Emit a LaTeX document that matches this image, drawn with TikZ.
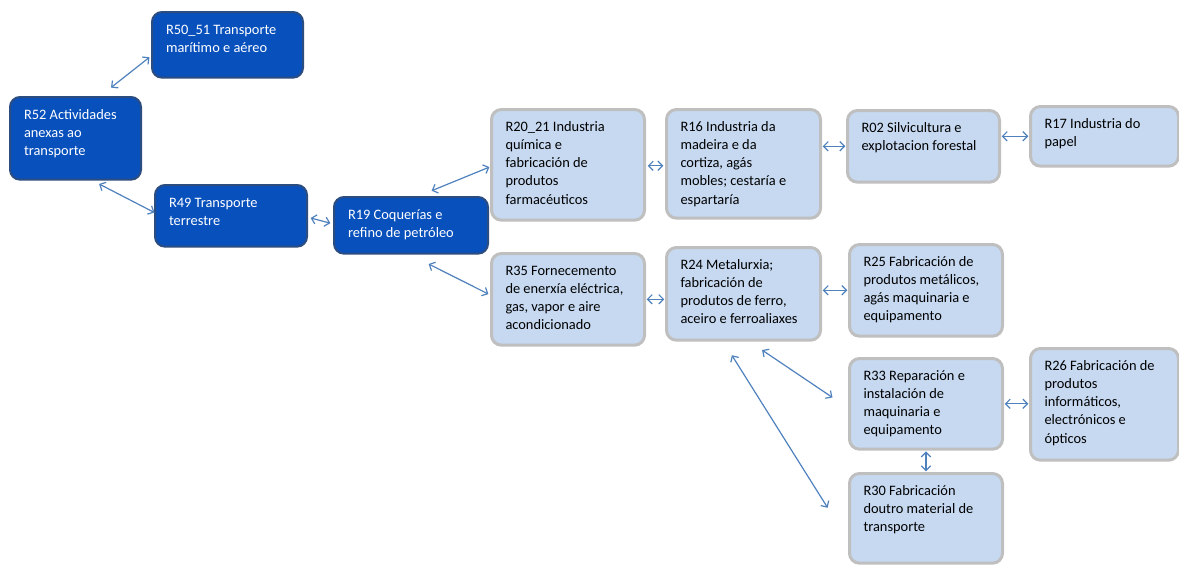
\documentclass[tikz,border=0pt]{standalone}
\usepackage{fontspec}
\setmainfont{Carlito}
\usepackage{tikz}
\usetikzlibrary{arrows.meta,calc}
\definecolor{deep}{HTML}{0850BC}
\definecolor{deepedge}{HTML}{2C4D80}
\definecolor{pale}{HTML}{C6D9F1}
\definecolor{paleedge}{HTML}{BFBFBF}
\definecolor{wire}{HTML}{4F81BD}
\newdimen\unitpx \unitpx=0.75pt
% box text: width and height in px
\newcommand{\sector}[3]{\parbox[b][\dimexpr#2\unitpx-15pt\relax][t]{\dimexpr#1\unitpx-21pt\relax}{\raggedright\strut#3}}

\begin{document}
\begin{tikzpicture}[x=0.75pt,y=-0.75pt,
  every node/.style={font=\fontsize{10.8}{13.6}\selectfont},
  sect/.style={rounded corners=7.5pt,anchor=north west,inner xsep=10.5pt,inner ysep=7pt},
  dark/.style={sect,fill=deep,draw=deepedge,line width=1.5pt,text=white},
  light/.style={sect,fill=pale,draw=paleedge,line width=2.25pt,text=black},
  link/.style={>={Straight Barb[length=3.5pt,width=7pt]},<->,draw=wire,line width=0.9pt,shorten <=0.5pt,shorten >=0.5pt}]
  \useasboundingbox (0,0) rectangle (1179,565);
  % transport
  \node[dark] (r5051) at (151,11) {\sector{151}{67}{R50\_51 Transporte\\marítimo e aéreo}};
  \node[dark] (r52) at (9,96) {\sector{131}{84}{R52 Actividades\\anexas ao\\transporte}};
  \node[dark] (r49) at (154,184) {\sector{152}{63}{R49 Transporte\\terrestre}};
  \node[dark] (r19) at (333,196) {\sector{154}{58}{R19 Coquerías e\\refino de petróleo}};
  % industry
  \node[light] (r2021) at (490,108) {\sector{153}{112}{R20\_21 Industria\\química e\\fabricación de\\produtos\\farmacéuticos}};
  \node[light] (r16) at (665,108) {\sector{154}{110}{R16 Industria da\\madeira e da\\cortiza, agás\\mobles; cestaría e\\espartaría}};
  \node[light] (r02) at (846,109) {\sector{152}{73}{R02 Silvicultura e\\explotacion forestal}};
  \node[light] (r17) at (1029,105) {\sector{148}{61}{R17 Industria do\\papel}};
  \node[light] (r35) at (490,252) {\sector{153}{93}{R35 Fornecemento\\de enerxía eléctrica,\\gas, vapor e aire\\acondicionado}};
  \node[light] (r24) at (665,246) {\sector{154}{94}{R24 Metalurxia;\\fabricación de\\produtos de ferro,\\aceiro e ferroaliaxes}};
  \node[light] (r25) at (848,243) {\sector{153}{93}{R25 Fabricación de\\produtos metálicos,\\agás maquinaria e\\equipamento}};
  \node[light] (r33) at (848,357) {\sector{153}{92}{R33 Reparación e\\instalación de\\maquinaria e\\equipamento}};
  \node[light] (r26) at (1029,347) {\sector{148}{113}{R26 Fabricación de\\produtos\\informáticos,\\electrónicos e\\ópticos}};
  \node[light] (r30) at (848,472) {\sector{153}{91}{R30 Fabricación\\doutro material de\\transporte}};
  % links
  \draw[link] ([shift={(-1,12)}]r5051.west) -- ([shift={(35,-8)}]r52.north);
  \draw[link] ([shift={(23,3)}]r52.south) -- ([shift={(1,-3)}]r49.west);
  \draw[link] ([shift={(2,2)}]r49.east) -- ([shift={(-2,-2)}]r19.west);
  \draw[link] ([shift={(20,-5)}]r19.north) -- ([shift={(0,2)}]r2021.west);
  \draw[link] ([shift={(17,9)}]r19.south) -- ([shift={(-1,-5)}]r35.west);
  \draw[link] ([shift={(1,1)}]r2021.east) -- ([shift={(-1,2)}]r16.west);
  \draw[link] (r16.east |- r02.west) -- (r02.west);
  \draw[link] (r02.east |- r17.west) -- (r17.west);
  \draw[link] (r35.east) -- (r35.east -| r24.west);
  \draw[link] (r24.east |- r25.west) -- (r25.west);
  \draw[link] ([shift={(18,8)}]r24.south) -- ([shift={(-15,-6)}]r33.west);
  \draw[link] ([shift={(-12,13)}]r24.south) -- ([shift={(-20,-10)}]r30.west);
  \draw[link] (r33.south) -- (r30.north);
  \draw[link] (r33.east) -- (r33.east -| r26.west);
\end{tikzpicture}
\end{document}
